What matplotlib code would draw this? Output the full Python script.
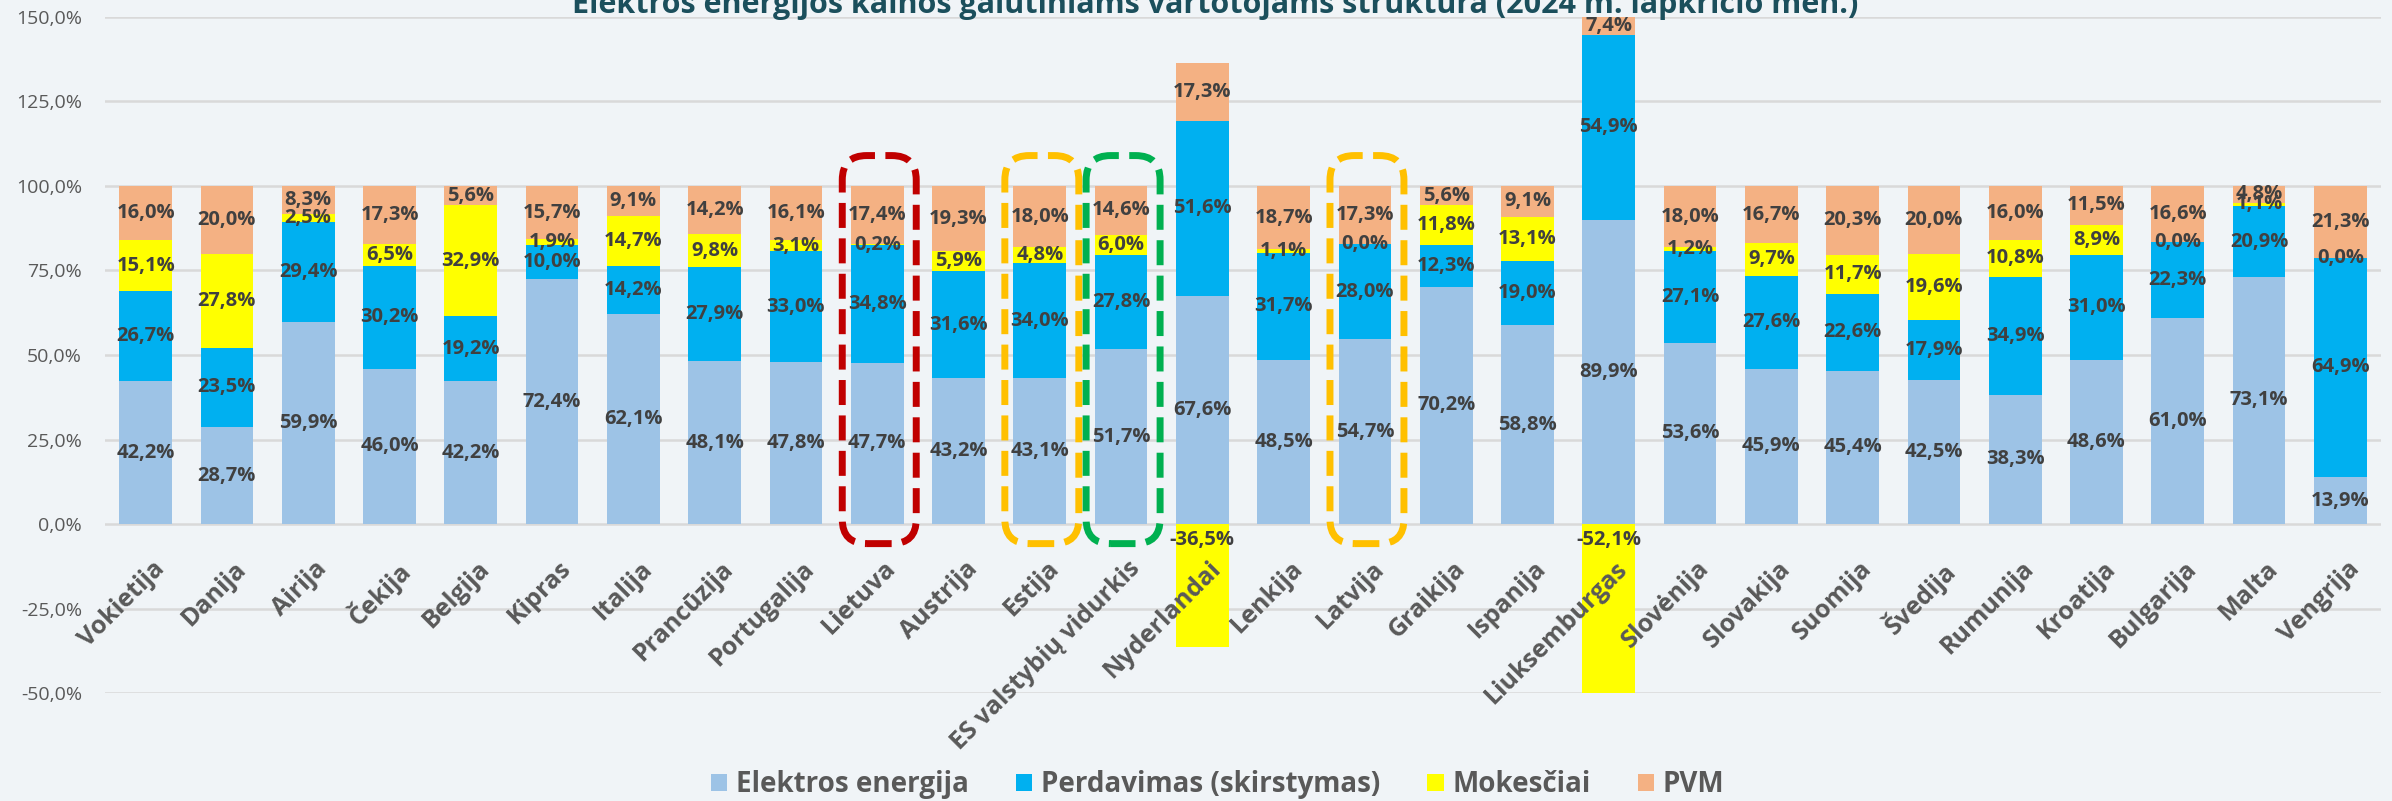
import matplotlib.pyplot as plt
import numpy as np
from matplotlib.patches import FancyBboxPatch

plt.rcParams['font.family'] = ['Open Sans', 'DejaVu Sans']

countries = ["Vokietija", "Danija", "Airija", "Čekija", "Belgija", "Kipras", "Italija",
             "Prancūzija", "Portugalija", "Lietuva", "Austrija", "Estija",
             "ES valstybių vidurkis", "Nyderlandai", "Lenkija", "Latvija", "Graikija",
             "Ispanija", "Liuksemburgas", "Slovėnija", "Slovakija", "Suomija", "Švedija",
             "Rumunija", "Kroatija", "Bulgarija", "Malta", "Vengrija"]
elektros = [42.2, 28.7, 59.9, 46.0, 42.2, 72.4, 62.1, 48.1, 47.8, 47.7, 43.2, 43.1, 51.7, 67.6,
            48.5, 54.7, 70.2, 58.8, 89.9, 53.6, 45.9, 45.4, 42.5, 38.3, 48.6, 61.0, 73.1, 13.9]
perdavimas = [26.7, 23.5, 29.4, 30.2, 19.2, 10.0, 14.2, 27.9, 33.0, 34.8, 31.6, 34.0, 27.8, 51.6,
              31.7, 28.0, 12.3, 19.0, 54.9, 27.1, 27.6, 22.6, 17.9, 34.9, 31.0, 22.3, 20.9, 64.9]
mokesciai = [15.1, 27.8, 2.5, 6.5, 32.9, 1.9, 14.7, 9.8, 3.1, 0.2, 5.9, 4.8, 6.0, -36.5,
             1.1, 0.0, 11.8, 13.1, -52.1, 1.2, 9.7, 11.7, 19.6, 10.8, 8.9, 0.0, 1.1, 0.0]
pvm = [16.0, 20.0, 8.3, 17.3, 5.6, 15.7, 9.1, 14.2, 16.1, 17.4, 19.3, 18.0, 14.6, 17.3,
       18.7, 17.3, 5.6, 9.1, 7.4, 18.0, 16.7, 20.3, 20.0, 16.0, 11.5, 16.6, 4.8, 21.3]

series = [("Elektros energija", elektros, "#9DC3E6"),
          ("Perdavimas (skirstymas)", perdavimas, "#00B0F0"),
          ("Mokesčiai", mokesciai, "#FFFF00"),
          ("PVM", pvm, "#F4B183")]

highlights = [("Lietuva", "#C00000"), ("Estija", "#FFC000"),
              ("ES valstybių vidurkis", "#00B050"), ("Latvija", "#FFC000")]

bg = "#F0F4F7"
ymin, ymax = -50, 150

fig = plt.figure(figsize=(23.92, 8.01), dpi=100, facecolor=bg)
ax = fig.add_axes([0.0439, 0.1348, 0.9515, 0.844])
ax.set_facecolor(bg)

x = np.arange(len(countries))
pos_base = np.zeros(len(countries))
neg_base = np.zeros(len(countries))
for name, vals, col in series:
    v = np.array(vals)
    bottom = np.where(v >= 0, pos_base, neg_base)
    ax.bar(x, v, 0.65, bottom=bottom, color=col, label=name, zorder=2)
    for xi, b, val in zip(x, bottom, v):
        if val < 0:
            y = -4.8
        else:
            y = (b + min(b + val, ymax)) / 2
        ax.text(xi, y, f"{val:.1f}%".replace('.', ','), ha='center', va='center',
                fontsize=14.5, fontweight='bold', color='#404040', zorder=4)
    pos_base = pos_base + np.clip(v, 0, None)
    neg_base = neg_base + np.clip(v, None, 0)

# dashed rounded frames
for name, col in highlights:
    i = countries.index(name)
    box = FancyBboxPatch((i - 0.43, -5.8), 0.91, 114.8,
                         boxstyle="round,pad=0,rounding_size=0.3", mutation_aspect=24,
                         fill=False, ec=col, lw=5, ls=(0, (3.6, 1.5)), zorder=5, clip_on=False)
    ax.add_patch(box)

# category labels at the zero line
for i, name in enumerate(countries):
    ax.text(i + 0.08, -9.5, name, rotation=45, rotation_mode='anchor', ha='right', va='top',
            fontsize=18, fontweight='bold', color='#595959', zorder=6)

ax.set_xlim(-0.5, len(countries) - 0.5)
ax.set_ylim(ymin, ymax)
ticks = np.arange(ymin, ymax + 1, 25)
ax.set_yticks(ticks)
ax.set_yticklabels([f"{t:.1f}%".replace('.', ',') for t in ticks])
ax.tick_params(axis='y', length=0, pad=16.5, labelsize=14, labelcolor='#595959')
ax.set_xticks([])
ax.yaxis.grid(True, color='#D9D9D9', lw=1.8)
ax.set_axisbelow(True)
for s in ax.spines.values():
    s.set_visible(False)

fig.text(0.508, 0.9838, "Elektros energijos kainos galutiniams vartotojams struktūra (2024 m. lapkričio mėn.)",
         ha='center', va='baseline', fontsize=22, fontweight='bold', color='#1B4F5C')

fig.legend(loc='center', bbox_to_anchor=(0.509, 0.02), ncol=4, frameon=False,
           prop={'size': 20, 'weight': 'bold'},
           handlelength=0.6, handleheight=0.55, handletextpad=0.3, columnspacing=1.7,
           labelcolor='#595959')

fig.savefig('out.png', dpi=100, facecolor=bg)
